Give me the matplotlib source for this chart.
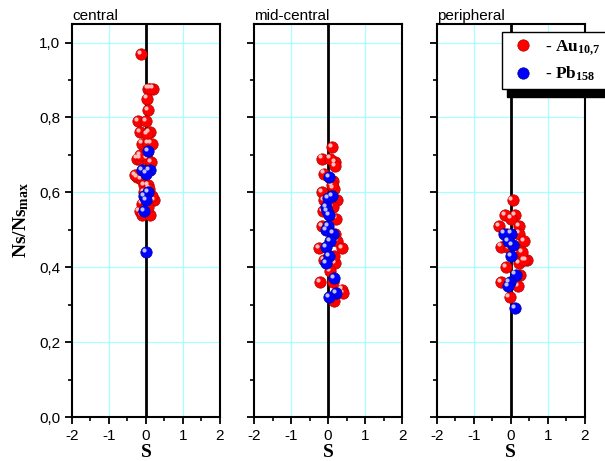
import matplotlib
matplotlib.use('Agg')
import matplotlib.pyplot as plt
import matplotlib.transforms as mtransforms
from matplotlib.ticker import FuncFormatter, MultipleLocator
from matplotlib.lines import Line2D

# panel titles
titles = ['central', 'mid-central', 'peripheral']

# Au 10,7 points (S, Ns/Ns_max) per panel
central_au_s = [-0.14, 0.05, 0.20, 0.12, 0.03, 0.05, -0.22, 0.00, -0.16, 0.10, 0.02, -0.10, 0.05, 0.15,
                -0.25, -0.15, 0.03, -0.16, 0.13, -0.25, -0.13, -0.05, 0.05, 0.08, 0.22, 0.15, -0.10,
                -0.17, -0.10, 0.10, -0.05, 0.05, -0.30]
central_au_y = [0.97, 0.877, 0.877, 0.877, 0.85, 0.82, 0.79, 0.79, 0.76, 0.76, 0.755, 0.73, 0.73, 0.73,
                0.69, 0.69, 0.69, 0.70, 0.68, 0.64, 0.635, 0.62, 0.62, 0.61, 0.58, 0.59, 0.57,
                0.55, 0.54, 0.54, 0.60, 0.56, 0.645]
central_pb_s = [0.05, -0.10, 0.10, 0.00, 0.05, -0.06, 0.00, -0.06, 0.00]
central_pb_y = [0.71, 0.66, 0.66, 0.65, 0.60, 0.59, 0.58, 0.55, 0.44]

mid_au_s = [0.10, -0.16, 0.19, 0.20, 0.05, -0.11, 0.14, -0.16, 0.24, -0.10, -0.13, 0.22, -0.17, 0.20,
            0.24, -0.24, 0.38, -0.11, 0.19, 0.06, -0.21, 0.14, 0.38, 0.40, 0.16, 0.15, 0.12, 0.16, 0.10]
mid_au_y = [0.72, 0.69, 0.68, 0.67, 0.69, 0.65, 0.63, 0.60, 0.58, 0.58, 0.55, 0.53, 0.51, 0.49,
            0.47, 0.45, 0.45, 0.42, 0.41, 0.39, 0.36, 0.36, 0.34, 0.33, 0.31, 0.61, 0.56, 0.43, 0.62]
mid_pb_s = [0.03, 0.10, 0.00, -0.06, -0.02, 0.02, 0.00, -0.06, 0.14, 0.05, -0.06, 0.03, -0.05, 0.16,
            0.22, 0.03]
mid_pb_y = [0.64, 0.59, 0.585, 0.56, 0.55, 0.54, 0.51, 0.50, 0.49, 0.47, 0.454, 0.43, 0.41, 0.37,
            0.33, 0.32]

per_au_s = [0.05, -0.16, 0.11, -0.32, 0.22, -0.10, 0.22, -0.27, 0.35, 0.10, 0.43, 0.22, 0.35, -0.13,
            -0.27, 0.19, -0.03, 0.00, 0.15, 0.25, -0.05, 0.30]
per_au_y = [0.58, 0.54, 0.54, 0.51, 0.51, 0.49, 0.49, 0.455, 0.47, 0.45, 0.42, 0.41, 0.42, 0.40,
            0.36, 0.35, 0.32, 0.53, 0.44, 0.38, 0.45, 0.44]
per_pb_s = [0.00, -0.19, 0.05, -0.08, 0.00, 0.13, -0.03, -0.08, 0.11]
per_pb_y = [0.49, 0.49, 0.46, 0.47, 0.43, 0.38, 0.36, 0.35, 0.29]

panels = [(central_au_s, central_au_y, central_pb_s, central_pb_y),
          (mid_au_s, mid_au_y, mid_pb_s, mid_pb_y),
          (per_au_s, per_au_y, per_pb_s, per_pb_y)]

plt.rcParams['font.family'] = ['Liberation Sans', 'DejaVu Sans']
plt.rcParams['mathtext.default'] = 'regular'
plt.rcParams['axes.unicode_minus'] = False

fig = plt.figure(figsize=(6.05, 4.61), dpi=100)
lefts = [0.119, 0.42, 0.722]
comma = FuncFormatter(lambda v, p: ('%.1f' % v).replace('.', ','))
bold_serif = dict(family='Liberation Serif', weight='bold')


def spheres(ax, xs, ys, color, edge, light):
    hl = mtransforms.ScaledTranslation(-1.6 / 72, 1.6 / 72, fig.dpi_scale_trans)
    ax.plot(xs, ys, 'o', ms=8.2, mfc=color, mec=edge, mew=0.5, zorder=4, clip_on=False)
    ax.plot(xs, ys, 'o', ms=3.0, mfc=light, mec='none', zorder=4,
            transform=ax.transData + hl, clip_on=False)


axes = []
for i, (au_s, au_y, pb_s, pb_y) in enumerate(panels):
    ax = fig.add_axes([lefts[i], 0.0954, 0.2446, 0.853], sharey=axes[0] if axes else None)
    axes.append(ax)
    ax.set_xlim(-2, 2)
    ax.set_ylim(0, 1.05)
    ax.xaxis.set_major_locator(MultipleLocator(1))
    ax.xaxis.set_minor_locator(MultipleLocator(0.5))
    ax.yaxis.set_major_locator(MultipleLocator(0.2))
    ax.yaxis.set_minor_locator(MultipleLocator(0.1))
    ax.yaxis.set_major_formatter(comma)
    ax.tick_params(which='major', direction='out', length=5, width=1.3, labelsize=11,
                   top=False, right=False)
    ax.tick_params(which='minor', direction='out', length=3, width=1.2, top=False, right=False)
    if i > 0:
        ax.tick_params(labelleft=False)
    for sp in ax.spines.values():
        sp.set_linewidth(1.5)
    for gx in (-1, 1):
        ax.axvline(gx, color='#a8ffff', lw=0.9, zorder=0)
    for gy in (0.2, 0.4, 0.6, 0.8, 1.0):
        ax.axhline(gy, color='#a8ffff', lw=0.9, zorder=0)
    ax.axvline(0, color='black', lw=2, zorder=2)
    spheres(ax, au_s, au_y, '#ff0000', '#b00000', '#ffc0c0')
    spheres(ax, pb_s, pb_y, '#0000ff', '#00008a', '#c0c0ff')
    ax.set_title(titles[i], loc='left', fontsize=11, pad=3)
    ax.set_xlabel('S', fontsize=14, labelpad=1, **bold_serif)

axes[0].set_ylabel('Ns/Ns$_{max}$', fontsize=14, labelpad=6, **bold_serif)

handles = [Line2D([], [], ls='none', marker='o', ms=8.2, mfc='#ff0000', mec='#b00000', mew=0.5),
           Line2D([], [], ls='none', marker='o', ms=8.2, mfc='#0000ff', mec='#00008a', mew=0.5)]
labels = ['- Au$_{10{,}7}$', '- Pb$_{158}$']
leg = fig.legend(handles, labels, loc='upper left', bbox_to_anchor=(0.8298, 0.9306),
                 prop=dict(family='Liberation Serif', weight='bold', size=12.5),
                 frameon=True, fancybox=False, edgecolor='black', framealpha=1,
                 borderpad=0.35, handlelength=1.7, handletextpad=0.4, labelspacing=0.45,
                 borderaxespad=0,
                 shadow={'ox': 3.6, 'oy': -5.5, 'color': 'black', 'alpha': 1})
leg.get_frame().set_linewidth(1.0)

fig.savefig('out.png', dpi=100)
